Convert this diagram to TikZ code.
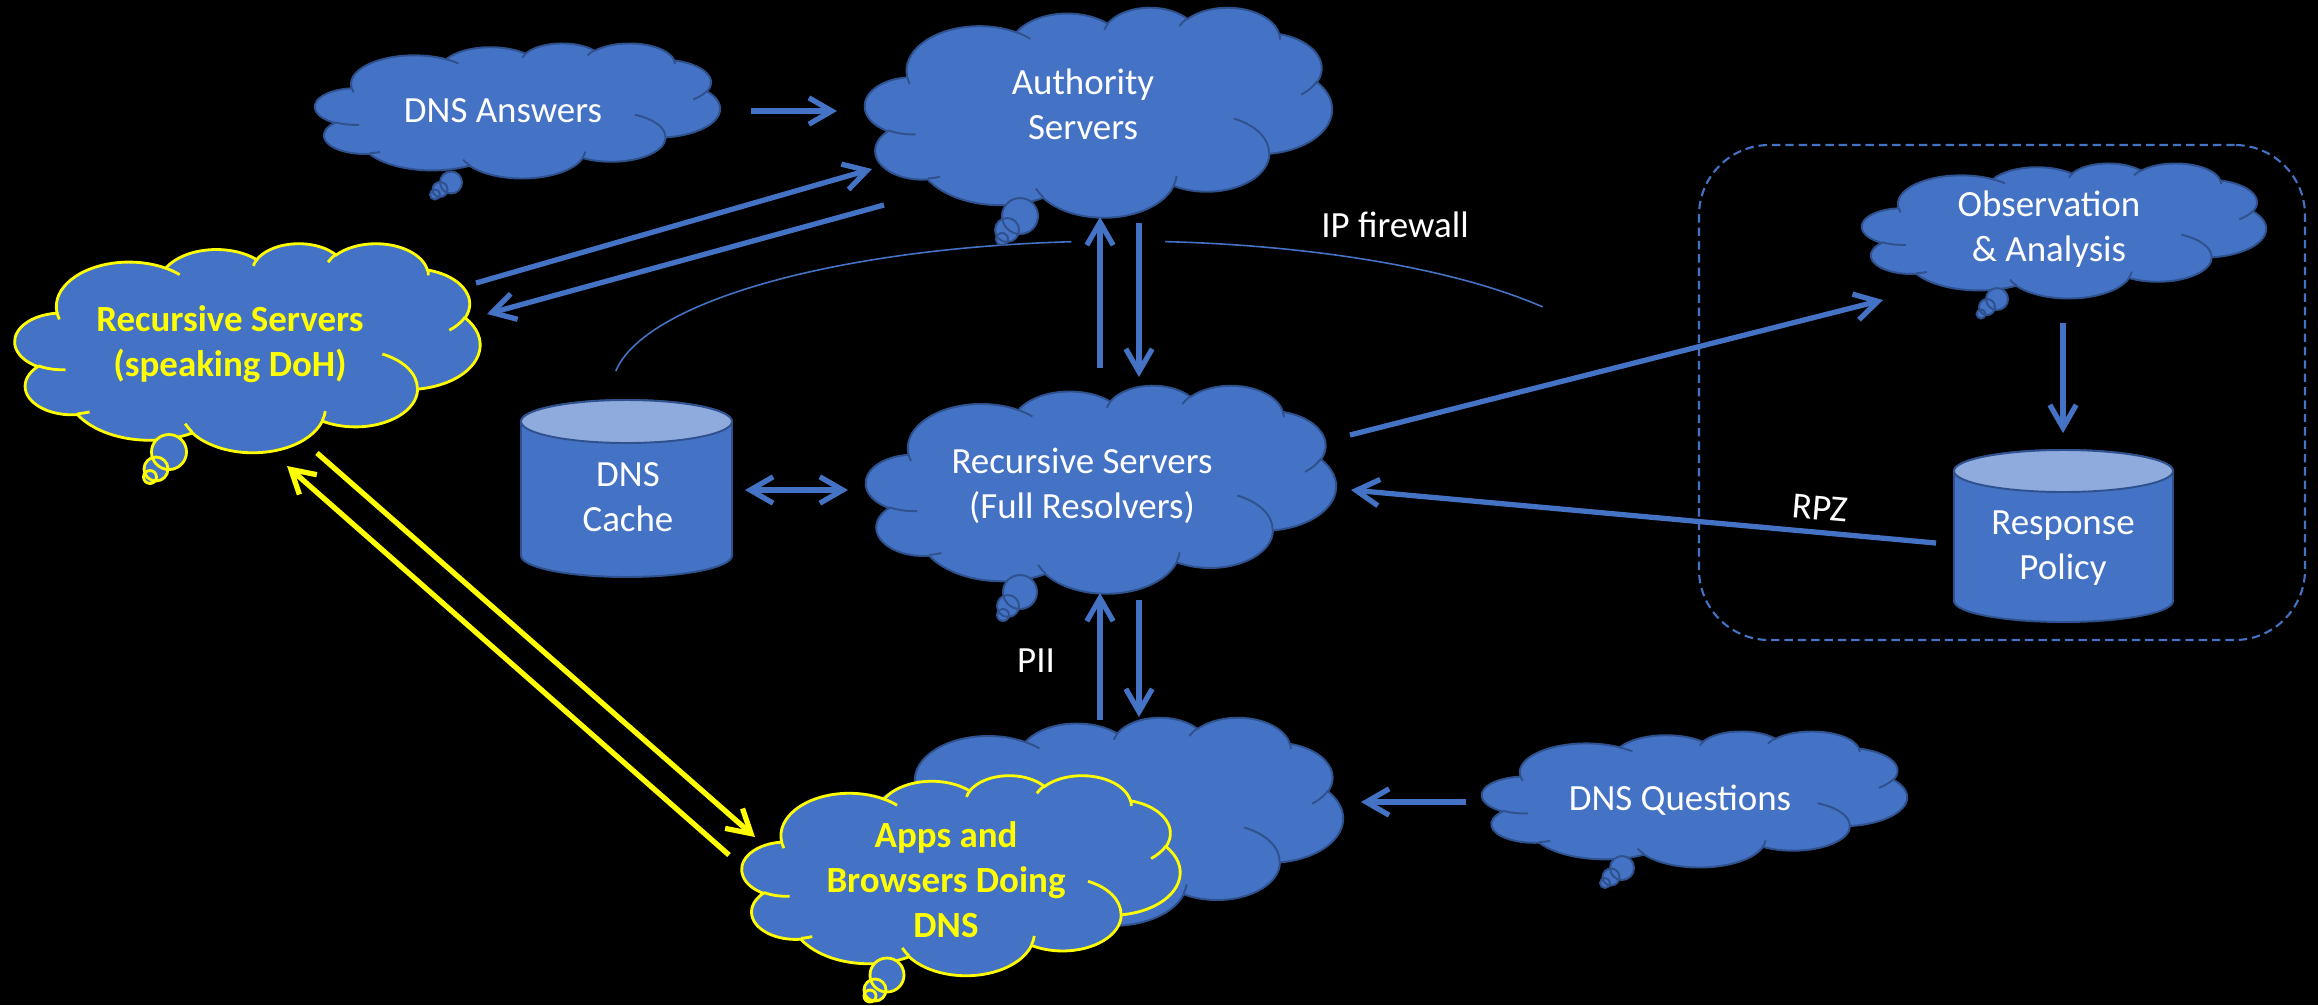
\documentclass[tikz,border=0pt]{standalone}
\usepackage{fontspec}
\setmainfont{Carlito}
\usetikzlibrary{arrows.meta,calc}

\definecolor{pptblue}{HTML}{4472C4}
\definecolor{pptedge}{HTML}{2F528F}
\definecolor{pptlight}{HTML}{8FAADC}
\definecolor{pptyellow}{HTML}{FFFF00}

\newcommand\dnsfont{\fontsize{10.5pt}{12.8pt}\selectfont}

% Cloud outline: elliptic arcs given by visual start angle and sweep;
% convert them once to parametric angles for TikZ.
\newcommand\defarc[5]{%
  \pgfmathsetmacro\tmpS{atan2((#2)*sin(#4),(#3)*cos(#4))}%
  \pgfmathsetmacro\tmpE{atan2((#2)*sin((#4)+(#5)),(#3)*cos((#4)+(#5)))}%
  \pgfmathsetmacro\tmpD{mod(\tmpE-\tmpS+720,360)}%
  \expandafter\xdef\csname cloudS#1\endcsname{\tmpS}%
  \expandafter\xdef\csname cloudD#1\endcsname{\tmpD}%
}
% outer puffs
\defarc{A}{67.53}{91.90}{-190.48748}{123.78053}
\defarc{B}{53.33}{72.67}{-144.10238}{89.94523}
\defarc{C}{43.65}{59.45}{-145.80792}{99.72302}
\defarc{D}{48.57}{65.95}{-130.98607}{117.24173}
\defarc{E}{53.33}{72.73}{-78.70888}{109.02692}
\defarc{F}{67.75}{92.20}{-46.26725}{130.269}
\defarc{G}{57.85}{78.67}{0.62502}{114.03333}
\defarc{H}{67.52}{92.15}{22.4516}{115.17255}
\defarc{I}{77.20}{105.43}{66.24263}{75.71102}
\defarc{J}{43.60}{59.18}{-274.94208}{146.73557}
\defarc{K}{43.45}{59.45}{-246.8285}{152.51885}
% inner creases
\defarc{a}{43.45}{59.45}{86.742}{26.4295}
\defarc{b}{43.60}{59.18}{73.61047}{11.44747}
\defarc{c}{67.52}{92.15}{137.62415}{14.0811}
\defarc{d}{67.52}{92.15}{6.45327}{15.99835}
\defarc{e}{57.85}{78.67}{-70.29235}{70.91737}
\defarc{f}{53.33}{72.73}{30.31803}{27.7515}
\defarc{g}{48.57}{65.95}{-13.74433}{14.8547}
\defarc{h}{48.57}{65.95}{-149.18145}{18.19537}
\defarc{i}{43.65}{59.45}{-163.49427}{17.68635}
\defarc{j}{67.53}{91.90}{-66.70695}{12.31935}
\defarc{k}{67.53}{91.90}{157.65435}{11.85817}

\newcommand\carc[3]{arc[x radius=#2,y radius=#3,start angle=\csname cloudS#1\endcsname,delta angle=\csname cloudD#1\endcsname]}

% #1 name, #2 left, #3 top, #4 width, #5 height, #6 look
\newcommand\pptcloud[6]{%
  \begin{scope}[shift={(#2,#3)},xscale=#4/432,yscale=#5/432]
    \path[#6] (39,143.70) \carc{A}{67.53}{91.90} \carc{B}{53.33}{72.67}
      \carc{C}{43.65}{59.45} \carc{D}{48.57}{65.95} \carc{E}{53.33}{72.73}
      \carc{F}{67.75}{92.20} \carc{G}{57.85}{78.67} \carc{H}{67.52}{92.15}
      \carc{I}{77.20}{105.43} \carc{J}{43.60}{59.18} \carc{K}{43.45}{59.45} -- cycle;
    \path[#6,fill=none] (46.93,261.77) \carc{a}{43.45}{59.45}
      (69.28,348.99) \carc{b}{43.60}{59.18}
      (164.78,390.90) \carc{c}{67.52}{92.15}
      (288.27,347.51) \carc{d}{67.52}{92.15}
      (341.29,229.54) \carc{e}{57.85}{78.67}
      (417.98,153.54) \carc{f}{53.33}{72.73}
      (383.24,54.26) \carc{g}{48.57}{65.95}
      (290.78,39.52) \carc{h}{48.57}{65.95}
      (221.41,47.20) \carc{i}{43.65}{59.45}
      (140.00,51.92) \carc{j}{67.53}{91.90}
      (41.27,157.89) \carc{k}{67.53}{91.90};
  \end{scope}
  \node[shapebox,minimum width={#4*0.01cm},minimum height={#5*0.01cm}] (#1) at ({#2+#4/2},{#3+#5/2}) {};
}

% #1 name, #2 left, #3 top, #4 width, #5 height, #6 half height of the lid
\newcommand\pptcan[6]{%
  \path[canbody] (#2,{#3+#6}) -- (#2,{#3+#5-#6})
    arc[start angle=180,delta angle=-180,x radius={#4/2},y radius=#6]
    -- ({#2+#4},{#3+#6})
    arc[start angle=0,delta angle=-180,x radius={#4/2},y radius=#6] -- cycle;
  \path[cantop] ({#2+#4/2},{#3+#6}) ellipse[x radius={#4/2},y radius=#6];
  \node[shapebox,minimum width={#4*0.01cm},minimum height={#5*0.01cm}] (#1) at ({#2+#4/2},{#3+#5/2}) {};
}

\tikzset{
  cloudblue/.style={fill=pptblue,draw=pptedge,line width=0.55pt},
  cloudyellow/.style={fill=pptblue,draw=pptyellow,line width=0.8pt},
  canbody/.style={fill=pptblue,draw=pptedge,line width=0.55pt},
  cantop/.style={fill=pptlight,draw=pptedge,line width=0.55pt},
  shapebox/.style={rectangle,inner sep=0pt,outer sep=0pt,draw=none},
  flow/.style={draw=pptblue,line width=1.5pt,-{Straight Barb[length=6.5pt,width=7.5pt]}},
  flowboth/.style={flow,{Straight Barb[length=6.5pt,width=7.5pt]}-{Straight Barb[length=6.5pt,width=7.5pt]}},
  dohflow/.style={flow,draw=pptyellow},
  wall/.style={draw=pptblue,line width=0.45pt},
  zonebox/.style={rectangle,draw=pptblue,line width=0.6pt,dash pattern=on 2.4pt off 1.4pt,rounded corners=20pt,inner sep=0pt},
  txt/.style={text=white,font=\dnsfont,align=center,inner sep=0pt,
    execute at begin node=\strut,execute at end node=\strut},
  ytxt/.style={txt,text=pptyellow,font=\dnsfont\bfseries},
}

\begin{document}
\begin{tikzpicture}[x=0.01cm,y=-0.01cm]
  \useasboundingbox (0,0) rectangle (2318,1005);
  \fill[black] (0,0) rectangle (2318,1005);

  % IP firewall boundary
  \draw[wall] (615.8,371.0) arc[start angle=187,end angle=264.5,x radius=508,y radius=148];
  \draw[wall] (1165.2,241.6) arc[start angle=275.1,end angle=326.3,x radius=508,y radius=148];

  % monitoring zone
  \node[zonebox,minimum width={606*0.01cm},minimum height={495*0.01cm}] (zone) at (2002,392.5) {};

  % clouds
  \pptcloud{ans}{315}{43}{405}{135}{cloudblue}
  \path[cloudblue] (451,182.5) circle[radius=11] (440,189.5) circle[radius=7.5] (435,194.5) circle[radius=5];

  \pptcloud{auth}{865}{7}{467}{210}{cloudblue}
  \path[cloudblue] (1020,216) circle[radius=18] (1007,230) circle[radius=12] (1002,239) circle[radius=6];

  \pptcloud{doh}{15}{243}{465}{209}{cloudyellow}
  \path[cloudyellow] (169,452) circle[radius=17.5] (156,469) circle[radius=12] (150,477) circle[radius=6.5];

  \pptcloud{full}{866}{385}{470}{208}{cloudblue}
  \path[cloudblue] (1020,592) circle[radius=17] (1008,606) circle[radius=11] (1003,615) circle[radius=6];

  \pptcloud{obs}{1862}{163}{404}{135}{cloudblue}
  \path[cloudblue] (1997,299) circle[radius=11] (1987,307) circle[radius=8] (1981,314) circle[radius=4.5];

  \pptcloud{ques}{1482}{731}{425}{136}{cloudblue}
  \path[cloudblue] (1622,868) circle[radius=12] (1611,877) circle[radius=8.5] (1605,883) circle[radius=5];

  \pptcloud{client}{873}{717}{470}{208}{cloudblue}

  \pptcloud{apps}{742}{775}{438}{200}{cloudyellow}
  \path[cloudyellow] (887,975) circle[radius=17] (875,990) circle[radius=11] (870,996) circle[radius=6];

  % data stores
  \pptcan{cache}{521}{400}{211}{177}{21.5}
  \pptcan{policy}{1954}{450}{219}{172}{21}

  % connectors
  \draw[flow] ($(ans.center)+(233.5,0.5)$) -- ($(auth.center)+(-261.5,-1)$);
  \draw[flow] ($(doh.center)+(228.5,-64.5)$) -- ($(auth.center)+(-226.5,57)$);
  \draw[flow] ($(auth.center)+(-214.5,93)$) -- ($(doh.center)+(239.5,-33.5)$);
  \draw[flow] ($(full.center)+(-1,-121)$) -- ($(auth.center)+(1.5,105)$);
  \draw[flow] ($(auth.center)+(40.5,111)$) -- ($(full.center)+(38,-112)$);
  \draw[flowboth] ($(cache.center)+(118.5,1.5)$) -- ($(full.center)+(-253,1)$);
  \draw[flow] ($(full.center)+(249,-54)$) -- ($(obs.center)+(-181,69.5)$);
  \draw[flow] ($(obs.center)+(-1,92.5)$) -- ($(policy.center)+(-0.5,-103)$);
  \draw[flow] ($(policy.center)+(-127.5,7)$) -- ($(full.center)+(250,1)$);
  \draw[flow] ($(client.center)+(-8,-101)$) -- ($(full.center)+(-1,104)$);
  \draw[flow] ($(full.center)+(38,111)$) -- ($(client.center)+(31,-104)$);
  \draw[flow] ($(ques.center)+(-228.5,3)$) -- ($(client.center)+(253,-19)$);
  \draw[dohflow] ($(doh.center)+(69.5,105.5)$) -- ($(apps.center)+(-206,-38)$);
  \draw[dohflow] ($(apps.center)+(-232,-20)$) -- ($(doh.center)+(39.5,118.5)$);

  % labels
  \node[txt] (ans-t) at (503,113) {DNS Answers};
  \node[txt] (auth-t) at (1083,110.5) {Authority\\Servers};
  \node[ytxt] (doh-t) at (230,348) {Recursive Servers\\(speaking DoH)};
  \node[txt] (full-t) at (1082,490.5) {Recursive Servers\\(Full Resolvers)};
  \node[txt] (obs-t) at (2049,232.5) {Observation\\\& Analysis};
  \node[txt] (ques-t) at (1680,801) {DNS Questions};
  \node[ytxt] (apps-t) at (946,886) {Apps and\\Browsers Doing\\DNS};
  \node[txt] (cache-t) at (628,504) {DNS\\Cache};
  \node[txt] (policy-t) at (2063,551.5) {Response\\Policy};
  \node[txt] (fw-t) at (1395,228) {IP firewall};
  \node[txt] (pii-t) at (1036,663) {PII};
  \node[txt,rotate=-5] (rpz-t) at (1820,511) {RPZ};
\end{tikzpicture}
\end{document}
